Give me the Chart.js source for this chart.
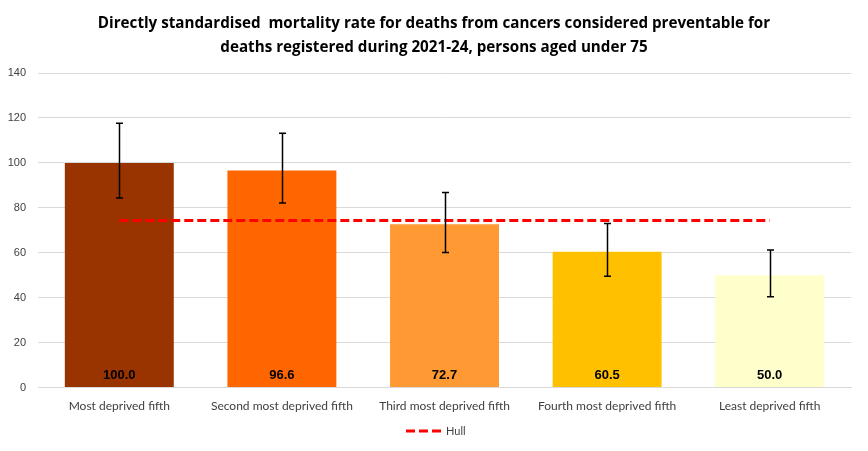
<!DOCTYPE html>
<html><head><meta charset="utf-8">
<script src="https://cdn.jsdelivr.net/npm/chart.js@4/dist/chart.umd.min.js"></script>
<style>html,body{margin:0;padding:0;background:#fff}#wrap{width:868px;height:451px}</style>
</head><body><div id="wrap"><canvas id="c"></canvas></div>
<script>
const categories = ["Most deprived fifth","Second most deprived fifth","Third most deprived fifth","Fourth most deprived fifth","Least deprived fifth"];
const rates = [100.0, 96.6, 72.7, 60.5, 50.0];
const lowerCI = [84.4, 82.1, 60.1, 49.6, 40.4];
const upperCI = [117.6, 113.2, 86.8, 73.0, 61.2];
const hullRate = [74.4, 74.4, 74.4, 74.4, 74.4];
const barColours = ["#993300","#FF6600","#FF9933","#FFC000","#FFFFCC"];
const yTicks = [0,20,40,60,80,100,120,140];
const titleLines = ["Directly standardised  mortality rate for deaths from cancers considered preventable for","deaths registered during 2021-24, persons aged under 75"];

const errorBars = {
  id:'errorBars',
  afterDatasetsDraw(chart){
    const meta = chart.getDatasetMeta(1);
    const y = chart.scales.y, ctx = chart.ctx;
    ctx.save();
    ctx.strokeStyle = '#000'; ctx.lineWidth = 1.5;
    meta.data.forEach((bar,i)=>{
      const x = Math.round(bar.x)+0.5;
      const yl = y.getPixelForValue(lowerCI[i]), yu = y.getPixelForValue(upperCI[i]);
      ctx.beginPath();
      ctx.moveTo(x,yl); ctx.lineTo(x,yu);
      ctx.moveTo(x-3.5,yl); ctx.lineTo(x+3.5,yl);
      ctx.moveTo(x-3.5,yu); ctx.lineTo(x+3.5,yu);
      ctx.stroke();
    });
    ctx.restore();
  }
};
const valueLabels = {
  id:'valueLabels',
  afterDatasetsDraw(chart){
    const meta = chart.getDatasetMeta(1);
    const y = chart.scales.y, ctx = chart.ctx;
    ctx.save();
    ctx.fillStyle = '#000';
    ctx.font = 'bold 13px "Liberation Sans", Arial, sans-serif';
    ctx.textAlign = 'center'; ctx.textBaseline = 'middle';
    meta.data.forEach((bar,i)=>{
      ctx.fillText(rates[i].toFixed(1), bar.x, y.getPixelForValue(0) - 12);
    });
    ctx.restore();
  }
};
const titleAndLegend = {
  id:'titleAndLegend',
  afterDraw(chart){
    const ctx = chart.ctx, ds = chart.data.datasets[0];
    const cx = chart.width/2;
    ctx.save();
    ctx.fillStyle = '#000';
    ctx.font = 'bold 15.2px "Open Sans", sans-serif';
    ctx.textAlign = 'center'; ctx.textBaseline = 'middle';
    titleLines.forEach((t,i)=>ctx.fillText(t, cx, 23.5 + i*24));
    const yy = 431;
    ctx.strokeStyle = ds.borderColor; ctx.lineWidth = 3;
    ctx.setLineDash([9,4]);
    ctx.beginPath(); ctx.moveTo(cx-28, yy); ctx.lineTo(cx+7, yy); ctx.stroke();
    ctx.setLineDash([]);
    ctx.fillStyle = '#404040';
    ctx.font = '11px Lato, sans-serif';
    ctx.textAlign = 'left';
    ctx.fillText(ds.label, cx+12, yy);
    ctx.restore();
  }
};

new Chart(document.getElementById('c'), {
  data:{
    labels: categories,
    datasets:[
      {type:'line', label:'Hull', data:hullRate, borderColor:'#FF0000', backgroundColor:'#FF0000',
       borderWidth:3, borderDash:[9,4], pointRadius:0, fill:false, order:0},
      {type:'bar', label:'Rate', data:rates, backgroundColor:barColours, borderWidth:0,
       categoryPercentage:0.67, barPercentage:1.0, order:1}
    ]
  },
  options:{
    responsive:true, maintainAspectRatio:false, animation:false,
    layout:{padding:{left:7,right:17,top:73,bottom:35}},
    plugins:{
      title:{display:false},
      legend:{display:false},
      tooltip:{enabled:false}
    },
    scales:{
      x:{grid:{display:false}, border:{color:'#d9d9d9'}, ticks:{color:'#404040', font:{family:'Lato, sans-serif', size:12}, maxRotation:0, padding:3}},
      y:{min:0, max:140, afterBuildTicks:(s)=>{s.ticks = yTicks.map(v=>({value:v}));},
         afterFit:(s)=>{s.width = 31;},
         grid:{color:'#d9d9d9', drawTicks:false}, border:{display:false},
         ticks:{color:'#404040', font:{family:'"Liberation Sans", sans-serif', size:11}, padding:12}}
    }
  },
  plugins:[errorBars, valueLabels, titleAndLegend]
});
</script></body></html>
